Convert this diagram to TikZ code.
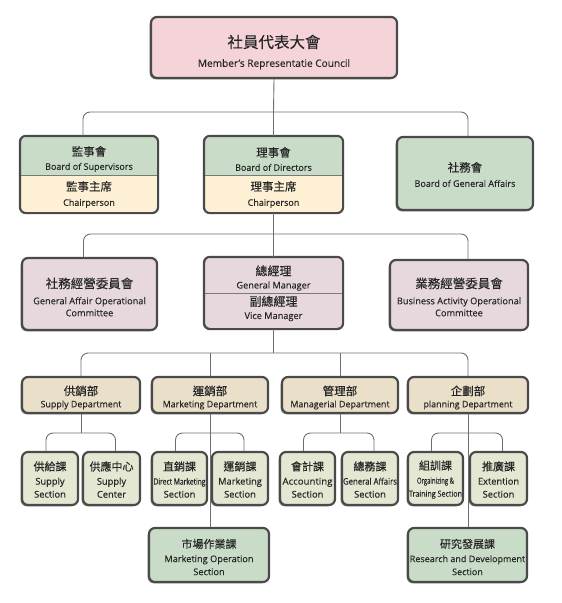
\documentclass[tikz,border=0pt]{standalone}
\usepackage{fontspec}
\setmainfont{Open Sans}[FakeBold=0.25]
\newfontfamily\cjkfont{Noto Sans CJK TC}[FakeBold=0.2]
\usetikzlibrary{shadows}
\definecolor{pinkc}{HTML}{F4D3D9}
\definecolor{greenc}{HTML}{C9DCC7}
\definecolor{creamc}{HTML}{FDF0D4}
\definecolor{mauvec}{HTML}{E6D8DC}
\definecolor{beigec}{HTML}{EADFC9}
\definecolor{secc}{HTML}{E4E7D2}
\definecolor{bordc}{HTML}{4A4A4A}
\definecolor{linec}{HTML}{6E6E6E}
\definecolor{splitc}{HTML}{7A7A7A}
\definecolor{textc}{HTML}{262626}
\newcommand\zhtxt[2]{{\cjkfont\fontsize{#1}{#1}\selectfont #2}}
\newcommand\entxt[2]{{\fontsize{#1}{#1}\selectfont #2}}
\tikzset{
  boxx/.style={draw=bordc, line width=2.2pt, rounded corners=6pt, inner sep=0pt,
    drop shadow={shadow xshift=-1.3pt, shadow yshift=-1.3pt, fill=black!55, opacity=0.9}},
  frame/.style={draw=bordc, line width=2.2pt, rounded corners=6pt},
  txt/.style={align=center, inner sep=0pt, text=textc, font=\fontsize{9}{13}\selectfont},
  conn/.style={draw=linec, line width=0.9pt, rounded corners=7pt},
  splitline/.style={draw=splitc, line width=0.7pt}
}
\begin{document}
\begin{tikzpicture}[x=1pt,y=-1pt]
\useasboundingbox (0,0) rectangle (562,603);
% ---------- level 1
\node[boxx, fill=pinkc, minimum width=246pt, minimum height=61pt] (top) at (274,47.5) {};
\node[txt] (topt) at (274,52) {\zhtxt{15.5}{社員代表大會}\\[6pt]\entxt{10.1}{Member's Representatie Council}};
% ---------- level 2
\node[boxx, draw=none, fill=greenc, minimum width=136pt, minimum height=75pt] (sup) at (89,174.5) {};
\begin{scope}
\clip[rounded corners=6pt] (sup.north west) rectangle (sup.south east);
\fill[creamc] (sup.west |- 0,175) rectangle (sup.south east);
\end{scope}
\draw[splitline] (sup.west |- 0,175) -- (sup.east |- 0,175);
\draw[frame] (sup.north west) rectangle (sup.south east);
\node[txt] (supt) at (89,159) {\zhtxt{11.5}{監事會}\\[1pt]\entxt{9}{Board of Supervisors}};
\node[txt] (supb) at (89,194.5) {\zhtxt{11.5}{監事主席}\\[2pt]\entxt{9}{Chairperson}};
\node[boxx, draw=none, fill=greenc, minimum width=137pt, minimum height=75pt] (dir) at (273.5,174.5) {};
\begin{scope}
\clip[rounded corners=6pt] (dir.north west) rectangle (dir.south east);
\fill[creamc] (dir.west |- 0,175) rectangle (dir.south east);
\end{scope}
\draw[splitline] (dir.west |- 0,175) -- (dir.east |- 0,175);
\draw[frame] (dir.north west) rectangle (dir.south east);
\node[txt] (dirt) at (273.5,159) {\zhtxt{11.5}{理事會}\\[1pt]\entxt{9}{Board of Directors}};
\node[txt] (dirb) at (273.5,194.5) {\zhtxt{11.5}{理事主席}\\[2pt]\entxt{9}{Chairperson}};
\node[boxx, fill=greenc, minimum width=136pt, minimum height=73pt] (gen) at (465,173.5) {};
\node[txt] (gent) at (465,174.5) {\zhtxt{11.5}{社務會}\\[2pt]\entxt{9}{Board of General Affairs}};
% ---------- level 3
\node[boxx, fill=mauvec, minimum width=135pt, minimum height=72pt] (gao) at (89.5,294) {};
\node[txt] (gaot) at (89.5,297) {\zhtxt{12.5}{社務經營委員會}\\[3pt]\entxt{9.2}{General Affair Operational}\\[-1pt]\entxt{9.2}{Committee}};
\node[boxx, draw=none, fill=mauvec, minimum width=137pt, minimum height=70pt] (gm) at (273.5,293) {};
\draw[splitline] (gm.west) -- (gm.east);
\draw[frame] (gm.north west) rectangle (gm.south east);
\node[txt] (gmt) at (273.5,278) {\zhtxt{12}{總經理}\\[0pt]\entxt{9.2}{General Manager}};
\node[txt] (gmb) at (273.5,308.5) {\zhtxt{12}{副總經理}\\[0pt]\entxt{9.2}{Vice Manager}};
\node[boxx, fill=mauvec, minimum width=138pt, minimum height=70pt] (bao) at (459,295) {};
\node[txt] (baot) at (459,297) {\zhtxt{12.5}{業務經營委員會}\\[3pt]\entxt{9.2}{Business Activity Operational}\\[-1pt]\entxt{9.2}{Committee}};
% ---------- level 4
\node[boxx, fill=beigec, minimum width=118pt, minimum height=36pt] (sd) at (81,395) {};
\node[txt] (sdt) at (81,397.5) {\zhtxt{11.5}{供銷部}\\[-1pt]\entxt{8.9}{Supply Department}};
\node[boxx, fill=beigec, minimum width=116pt, minimum height=36pt] (md) at (210,395) {};
\node[txt] (mdt) at (210,397.5) {\zhtxt{11.5}{運銷部}\\[-1pt]\entxt{8.9}{Marketing Department}};
\node[boxx, fill=beigec, minimum width=116pt, minimum height=36pt] (mgd) at (340,395) {};
\node[txt] (mgdt) at (340,397.5) {\zhtxt{11.5}{管理部}\\[-1pt]\entxt{8.9}{Managerial Department}};
\node[boxx, fill=beigec, minimum width=120pt, minimum height=36pt] (pd) at (468,395) {};
\node[txt] (pdt) at (468,397.5) {\zhtxt{11.5}{企劃部}\\[-1pt]\entxt{8.9}{planning Department}};
% ---------- level 5
\node[boxx, fill=secc, minimum width=56pt, minimum height=53pt] (s1) at (50,478.5) {};
\node[txt] (s1t) at (50,479.5) {\zhtxt{11}{供給課}\\[1pt]\entxt{9.3}{Supply}\\\entxt{9.3}{Section}};
\node[boxx, fill=secc, minimum width=57pt, minimum height=53pt] (s2) at (111.5,478.5) {};
\node[txt] (s2t) at (111.5,479.5) {\zhtxt{11}{供應中心}\\[1pt]\entxt{9.3}{Supply}\\\entxt{9.3}{Center}};
\node[boxx, fill=secc, minimum width=55pt, minimum height=53pt] (s3) at (179.5,478.5) {};
\node[txt] (s3t) at (179.5,479.5) {\zhtxt{11}{直銷課}\\[1pt]\resizebox{52pt}{\height}{\entxt{8.6}{Direct Marketing}}\\\entxt{9.3}{Section}};
\node[boxx, fill=secc, minimum width=56pt, minimum height=53pt] (s4) at (240,478.5) {};
\node[txt] (s4t) at (240,479.5) {\zhtxt{11}{運銷課}\\[1pt]\entxt{9.3}{Marketing}\\\entxt{9.3}{Section}};
\node[boxx, fill=secc, minimum width=55pt, minimum height=53pt] (s5) at (307.5,478.5) {};
\node[txt] (s5t) at (307.5,479.5) {\zhtxt{11}{會計課}\\[1pt]\resizebox{50pt}{\height}{\entxt{9.3}{Accounting}}\\\entxt{9.3}{Section}};
\node[boxx, fill=secc, minimum width=56pt, minimum height=53pt] (s6) at (370,478.5) {};
\node[txt] (s6t) at (370,479.5) {\zhtxt{11}{總務課}\\[1pt]\resizebox{54pt}{\height}{\entxt{9}{General Affairs}}\\\entxt{9.3}{Section}};
\node[boxx, fill=secc, minimum width=55pt, minimum height=53pt] (s7) at (435.5,478.5) {};
\node[txt] (s7t) at (435.5,479.5) {\zhtxt{11}{組訓課}\\[1pt]\resizebox{37pt}{\height}{\entxt{8.3}{Orgainizing \&}}\\\resizebox{53pt}{\height}{\entxt{8.3}{Training Section}}};
\node[boxx, fill=secc, minimum width=57pt, minimum height=53pt] (s8) at (498.5,478.5) {};
\node[txt] (s8t) at (498.5,479.5) {\zhtxt{11}{推廣課}\\[1pt]\entxt{9.3}{Extention}\\\entxt{9.3}{Section}};
% ---------- level 6
\node[boxx, fill=greenc, minimum width=120pt, minimum height=54pt] (mos) at (209,555) {};
\node[txt] (most) at (209,557) {\zhtxt{11}{市場作業課}\\[1pt]\entxt{9.2}{Marketing Operation}\\\entxt{9.2}{Section}};
\node[boxx, fill=greenc, minimum width=119pt, minimum height=54pt] (rds) at (467.5,555) {};
\node[txt] (rdst) at (467.5,557) {\zhtxt{11}{研究發展課}\\[1pt]\entxt{9}{Research and Development}\\\entxt{9}{Section}};
% ---------- connectors
\coordinate (bus1) at (273.5,112);
\coordinate (bus2) at (273.5,234);
\coordinate (bus3) at (273.5,353);
\draw[conn] (top.south) -- (bus1);
\draw[conn] ([xshift=-6pt]sup.north) |- (bus1) -| ([xshift=3pt]gen.north);
\draw[conn] (bus1) -- (dir.north);
\draw[conn] (dir.south) -- (gm.north);
\draw[conn] ([xshift=-6pt]gao.north) |- (bus2) -| ([xshift=9pt]bao.north);
\draw[conn] (gm.south) -- (bus3);
\draw[conn] (sd.north) |- (bus3) -| (pd.north);
\draw[conn] (md.north) -- (md.north |- bus3);
\draw[conn] (mgd.north) -- (mgd.north |- bus3);
% dept -> sections
\coordinate (b4a) at (81,433);
\draw[conn] (sd.south) -- (b4a);
\draw[conn] ([xshift=-4pt]s1.north) |- (b4a) -| ([xshift=4pt]s2.north);
\coordinate (b4b) at (md.south |- b4a);
\draw[conn] (md.south) -- (md.south |- mos.north);
\draw[conn] ([xshift=-4pt]s3.north) |- (b4b) -| ([xshift=4pt]s4.north);
\coordinate (b4c) at (mgd.south |- b4a);
\draw[conn] (mgd.south) -- (b4c);
\draw[conn] ([xshift=-4pt]s5.north) |- (b4c) -| ([xshift=4pt]s6.north);
\coordinate (b4d) at (pd.south |- b4a);
\draw[conn] (pd.south) -- (pd.south |- rds.north);
\draw[conn] ([xshift=-4pt]s7.north) |- (b4d) -| ([xshift=4pt]s8.north);
\end{tikzpicture}
\end{document}
